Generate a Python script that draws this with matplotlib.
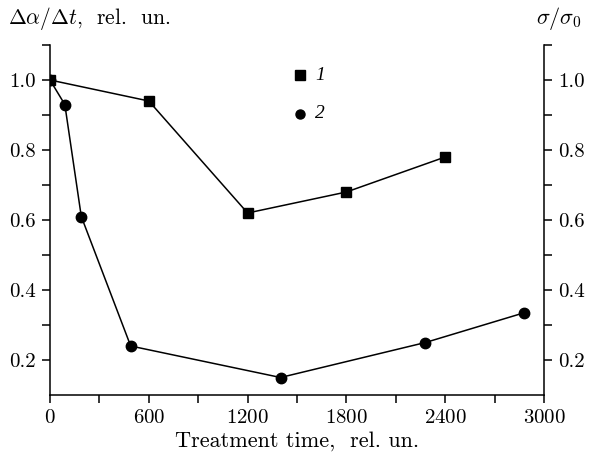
import numpy as np
from matplotlib import pyplot as plt

# data
t1 = [0, 600, 1200, 1800, 2400]
y1 = [1.0, 0.94, 0.62, 0.68, 0.78]
t2 = [0, 90, 190, 490, 1400, 2280, 2880]
y2 = [1.0, 0.93, 0.61, 0.24, 0.15, 0.25, 0.335]
xticks = [0, 600, 1200, 1800, 2400, 3000]
yticks = [0.2, 0.4, 0.6, 0.8, 1.0]

plt.rcParams['font.family'] = 'cmr10'
plt.rcParams['mathtext.fontset'] = 'cm'
plt.rcParams['axes.formatter.use_mathtext'] = True

fig = plt.figure(figsize=(5.89, 4.54), dpi=100)
ax = fig.add_axes([50/589, 59/454, 494/589, 350/454])
ax.plot(t1, y1, 'k-', lw=1.1, marker='s', ms=7.5, mfc='k', mec='k')
ax.plot(t2, y2, 'k-', lw=1.1, marker='o', ms=7.5, mfc='k', mec='k')
ax.set_xlim(0, 3000); ax.set_ylim(0.1, 1.1)
ax.set_xticks(xticks); ax.set_xticks(np.arange(300, 3000, 600), minor=True)
ax.set_yticks(yticks); ax.set_yticks(np.arange(0.3, 1.15, 0.2), minor=True)
ax.set_yticklabels(['%.1f' % v for v in yticks])
ax.spines['top'].set_visible(False)
for s in ['left', 'right', 'bottom']:
    ax.spines[s].set_linewidth(1.1)
ax.tick_params(which='both', direction='out', length=6, width=1.1,
               right=True, labelright=True, labelsize=15, pad=4)
ax.set_xlabel('Treatment time,  rel. un.', fontsize=16, labelpad=3)
# axis titles at top corners
fig.text(8/589, 1-19/454, r'$\Delta\alpha/\Delta t$,  rel.  un.', fontsize=15.5, va='center')
fig.text(582/589, 1-19/454, r'$\sigma/\sigma_0$', fontsize=16, va='center', ha='right')
# legend as markers with italic numbers
ax.plot([1520], [1.014], 'ks', ms=6.5)
ax.plot([1520], [0.903], 'ko', ms=6.5)
ax.text(1610, 1.014, '1', fontsize=14, va='center', family='Liberation Serif', style='italic')
ax.text(1610, 0.903, '2', fontsize=14, va='center', family='Liberation Serif', style='italic')
plt.savefig('out.png', dpi=100)
